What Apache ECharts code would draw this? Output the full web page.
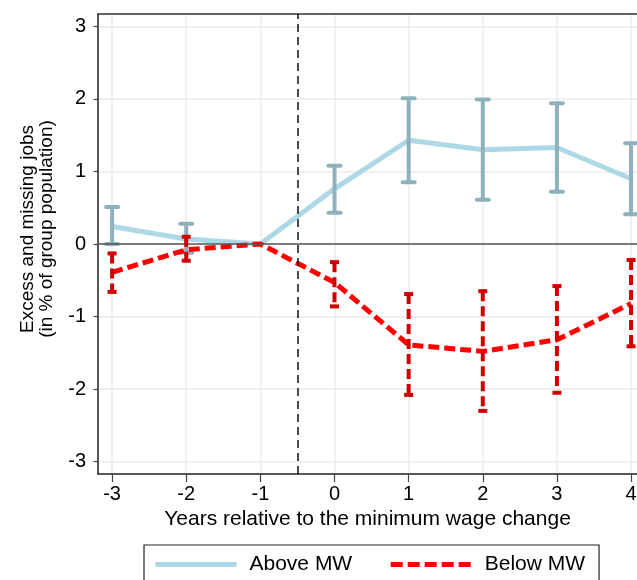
<!DOCTYPE html>
<html lang="en">
<head>
<meta charset="utf-8">
<title>Excess and missing jobs</title>
<script src="https://cdn.jsdelivr.net/npm/echarts@6/dist/echarts.min.js"></script>
<style>
  html, body { margin: 0; padding: 0; background: #fff; }
  #main { width: 637px; height: 580px; }
</style>
</head>
<body>
<div id="main"></div>
<script>
// years relative to the minimum wage change
var years = [-3, -2, -1, 0, 1, 2, 3, 4];
var yTicks = [-3, -2, -1, 0, 1, 2, 3];

// above MW: point estimate and 95% CI (no bar at the reference year -1)
var aboveEst = [0.24, 0.07, 0, 0.76, 1.43, 1.30, 1.33, 0.90];
var aboveLo  = [0.00, -0.12, null, 0.43, 0.85, 0.61, 0.72, 0.41];
var aboveHi  = [0.51, 0.28, null, 1.08, 2.01, 1.99, 1.94, 1.39];

// below MW
var belowEst = [-0.39, -0.08, 0, -0.53, -1.39, -1.48, -1.32, -0.82];
var belowLo  = [-0.66, -0.23, null, -0.86, -2.08, -2.30, -2.05, -1.41];
var belowHi  = [-0.13, 0.10, null, -0.25, -0.69, -0.65, -0.58, -0.22];

var FONT = '"Liberation Sans", Arial, sans-serif';
var X_MIN = -3.19, X_MAX = 4.08;

function pairs(xs, ys) {
    return xs.map(function (x, i) { return [x, ys[i]]; });
}
function bars(xs, lo, hi) {
    var out = [];
    xs.forEach(function (x, i) {
        if (lo[i] != null) out.push([x, lo[i], hi[i]]);
    });
    return out;
}

// error bar with caps, drawn through the axes
function errorBar(color, dash, capW, cap) {
    return function (params, api) {
        var top = api.coord([api.value(0), api.value(2)]);
        var bot = api.coord([api.value(0), api.value(1)]);
        var st = { stroke: color, lineWidth: 4, lineCap: cap };
        var bar = { stroke: color, lineWidth: 4, lineCap: 'butt', lineDash: dash };
        return {
            type: 'group',
            children: [
                { type: 'line', shape: { x1: top[0], y1: top[1], x2: bot[0], y2: bot[1] }, style: bar },
                { type: 'line', shape: { x1: top[0] - capW / 2, y1: top[1], x2: top[0] + capW / 2, y2: top[1] }, style: st },
                { type: 'line', shape: { x1: bot[0] - capW / 2, y1: bot[1], x2: bot[0] + capW / 2, y2: bot[1] }, style: st }
            ]
        };
    };
}

var myChart = echarts.init(document.getElementById('main'));

var option = {
    animation: false,
    grid: { left: 98, right: 0, top: 14, bottom: 106, outerBoundsMode: 'none', containLabel: false },
    legend: {
        data: [
            { name: 'Above MW', lineStyle: { color: '#ADD8E6', width: 5 }, itemStyle: { opacity: 0 } },
            { name: 'Below MW', lineStyle: { color: '#FF0000', width: 5, type: [12, 5] }, itemStyle: { opacity: 0 } }
        ],
        left: 144, top: 545,
        orient: 'horizontal',
        itemWidth: 81, itemHeight: 14, itemGap: 36,
        padding: [9, 14, 30, 9],
        borderColor: '#222', borderWidth: 1.2,
        textStyle: { fontFamily: FONT, fontSize: 21, color: '#000', padding: [0, 0, 0, 8] }
    },
    xAxis: [{
        type: 'value', min: X_MIN, max: X_MAX,
        name: 'Years relative to the minimum wage change',
        nameLocation: 'middle', nameGap: 33,
        nameTextStyle: { fontFamily: FONT, fontSize: 21, color: '#000', padding: [0, 0, 0, 0] },
        axisLine: { onZero: false, lineStyle: { color: '#222', width: 1.5 } },
        axisTick: { customValues: years, length: 8, lineStyle: { color: '#444', width: 1.2 } },
        axisLabel: { customValues: years, margin: 10, fontFamily: FONT, fontSize: 20, color: '#000' },
        splitLine: { show: true, lineStyle: { color: '#ebebeb', width: 1.5 } }
    }, {
        // top edge of the plot region
        type: 'value', position: 'top', min: X_MIN, max: X_MAX,
        axisLine: { show: true, onZero: false, lineStyle: { color: '#333', width: 1.5 } },
        axisTick: { show: false }, axisLabel: { show: false }, splitLine: { show: false }
    }],
    yAxis: {
        type: 'value', min: -3.17, max: 3.17,
        name: 'Excess and missing jobs\n(in % of group population)',
        nameLocation: 'middle', nameGap: 42,
        nameTextStyle: { fontFamily: FONT, fontSize: 19, lineHeight: 19, color: '#000', padding: [0, 0, 0, 30] },
        axisLine: { show: true, onZero: false, lineStyle: { color: '#222', width: 1.5 } },
        axisTick: { show: true, customValues: yTicks, length: 4.5, lineStyle: { color: '#444', width: 1.2 } },
        axisLabel: { customValues: yTicks, margin: 12, fontFamily: FONT, fontSize: 20, color: '#000' },
        splitLine: { show: true, lineStyle: { color: '#ebebeb', width: 1.5 } }
    },
    series: [
        {
            name: 'Above MW', type: 'line', data: pairs(years, aboveEst),
            symbol: 'none', z: 2,
            lineStyle: { color: '#ADD8E6', width: 5 },
            itemStyle: { color: '#ADD8E6' },
            markLine: {
                silent: true, symbol: ['none', 'none'], label: { show: false },
                animation: false,
                data: [
                    { yAxis: 0, lineStyle: { color: '#555', width: 1.5, type: 'solid' } },
                    { xAxis: -0.5, lineStyle: { color: '#111', width: 1.5, type: [8, 5] } }
                ]
            }
        },
        {
            name: 'Above MW CI', type: 'custom', z: 3,
            data: bars(years, aboveLo, aboveHi),
            encode: { x: 0, y: [1, 2] },
            renderItem: errorBar('#8FB1BD', null, 12, 'round')
        },
        {
            name: 'Below MW', type: 'line', data: pairs(years, belowEst),
            symbol: 'none', z: 4,
            lineStyle: { color: '#FF0000', width: 5, type: [11, 5] },
            itemStyle: { color: '#FF0000' }
        },
        {
            name: 'Below MW CI', type: 'custom', z: 5,
            data: bars(years, belowLo, belowHi),
            encode: { x: 0, y: [1, 2] },
            renderItem: errorBar('#D00000', [10, 5], 9, 'butt')
        }
    ]
};

myChart.setOption(option);
</script>
</body>
</html>
